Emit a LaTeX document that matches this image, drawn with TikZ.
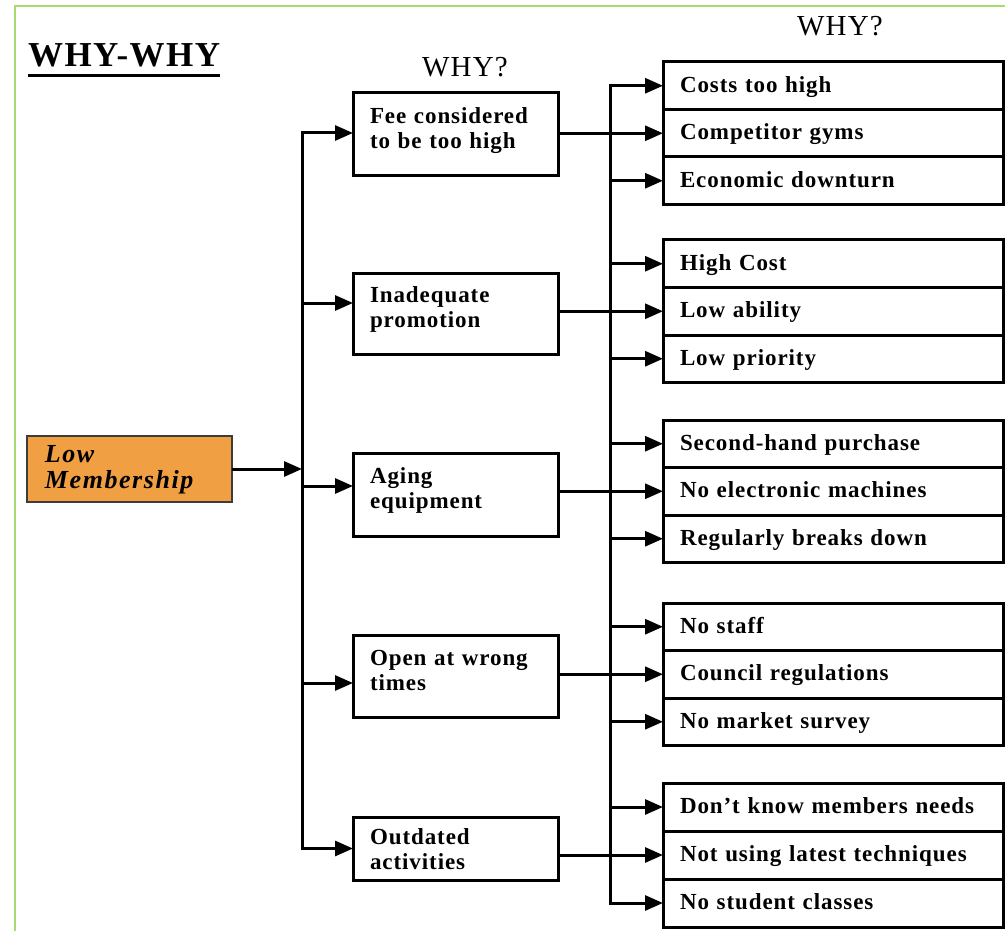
\documentclass[tikz,border=0pt]{standalone}
\usepackage{fontspec}
\setmainfont{Liberation Serif}
\newfontfamily\boxfont[LetterSpace=4]{Liberation Serif}
\newfontfamily\rootfont[LetterSpace=6]{Liberation Serif}
\usetikzlibrary{positioning,arrows.meta}
\definecolor{framegreen}{RGB}{166,220,110}
\definecolor{rootfill}{RGB}{240,160,66}
\definecolor{rootdraw}{RGB}{60,60,60}

\begin{document}
\begin{tikzpicture}[
    x=1pt, y=-1pt,
    box/.style={rectangle, draw, line width=3pt, outer sep=0pt, text width=171pt, inner xsep=17pt, inner ysep=2pt, align=left, text height=16pt, text depth=38pt, font=\boxfont\fontsize{23}{25}\selectfont\bfseries},
    reason/.style={rectangle, draw, line width=3pt, outer sep=0pt, text width=306pt, inner xsep=17pt, align=left, minimum height=47.5pt, text height=17pt, text depth=4pt, font=\boxfont\fontsize{23}{25}\selectfont\bfseries},
    root/.style={rectangle, draw=rootdraw, fill=rootfill, line width=1.8pt, outer sep=0pt, text width=169pt, inner xsep=18pt, inner ysep=2pt, align=left, minimum height=66pt, text height=18pt, text depth=32pt, font=\rootfont\fontsize{26}{26}\selectfont\bfseries\itshape},
    whylabel/.style={inner sep=0pt, font=\boxfont\fontsize{29}{30}\selectfont},
    link/.style={line width=3pt, line cap=rect},
    arrow/.style={-{Triangle[length=18pt,width=15pt]}, line width=3pt}
]
\useasboundingbox (0,0) rectangle (1005,931);

% Frame
\draw[framegreen, line width=2pt] (15,931) -- (15,6) -- (1005,6);

% Title
\node[inner sep=0pt, anchor=base west, font=\boxfont\fontsize{35}{40}\selectfont\bfseries] (title) at (28,67) {WHY-WHY};
\draw[line width=3pt] ([yshift=-8pt]title.south west) -- ([yshift=-8pt]title.south east);

\node[whylabel, anchor=base] (why1) at (465,77) {WHY?};
\node[whylabel, anchor=base] (why2) at (840,36) {WHY?};

% Problem
\node[root, anchor=north west] (root) at (27,436) {Low\\Membership};

% First why
\node[box, anchor=north west, minimum height=83pt] (fee) at (353,93) {Fee considered\\to be too high};
\node[box, anchor=north west, minimum height=81pt] (promo) at (353,273) {Inadequate\\promotion};
\node[box, anchor=north west, minimum height=83pt] (aging) at (353,453) {Aging\\equipment};
\node[box, anchor=north west, minimum height=82pt] (open) at (353,635) {Open at wrong\\times};
\node[box, anchor=north west, minimum height=63pt, text depth=24pt] (outd) at (353,817) {Outdated\\activities};

% Second why
\node[reason, anchor=north west] (costs) at (663,62) {Costs too high};
\node[reason, below=0pt of costs] (gyms) {Competitor gyms};
\node[reason, below=0pt of gyms] (downturn) {Economic downturn};

\node[reason, anchor=north west] (highcost) at (663,240) {High Cost};
\node[reason, below=0pt of highcost] (ability) {Low ability};
\node[reason, below=0pt of ability] (priority) {Low priority};

\node[reason, anchor=north west] (secondhand) at (663,420) {Second-hand purchase};
\node[reason, below=0pt of secondhand] (electronic) {No electronic machines};
\node[reason, below=0pt of electronic] (breaks) {Regularly breaks down};

\node[reason, anchor=north west] (staff) at (663,603) {No staff};
\node[reason, below=0pt of staff] (council) {Council regulations};
\node[reason, below=0pt of council] (survey) {No market survey};

\node[reason, anchor=north west, minimum height=48pt] (needs) at (663,783) {Don’t know members needs};
\node[reason, below=0pt of needs, minimum height=48pt] (latest) {Not using latest techniques};
\node[reason, below=0pt of latest, minimum height=48pt] (student) {No student classes};

% Trunks
\coordinate (ltrunk) at (302,0);
\coordinate (rtrunk) at (610,0);
\coordinate (fee-in) at ([yshift=1.5pt]fee.west);
\coordinate (promo-in) at ([yshift=10.5pt]promo.west);
\coordinate (aging-in) at ([yshift=8.5pt]aging.west);
\coordinate (open-in) at ([yshift=-7pt]open.west);
\coordinate (outd-in) at (outd.west);

\draw[arrow] (root.east) -- (root.east -| ltrunk);
\draw[link] (fee-in -| ltrunk) -- (outd-in -| ltrunk);
\foreach \n in {fee,promo,aging,open,outd}
    \draw[arrow] (\n-in -| ltrunk) -- (\n-in);

\draw[link] (costs.west -| rtrunk) -- (student.west -| rtrunk);
\foreach \n in {costs,gyms,downturn,highcost,ability,priority,secondhand,electronic,breaks,staff,council,survey,needs,latest,student}
    \draw[arrow] (\n.west -| rtrunk) -- (\n.west);

% First why to second why
\draw[link] (fee.east |- gyms.west) -- (gyms.west -| rtrunk);
\draw[link] (promo.east |- ability.west) -- (ability.west -| rtrunk);
\draw[link] (aging.east |- electronic.west) -- (electronic.west -| rtrunk);
\draw[link] (open.east |- council.west) -- (council.west -| rtrunk);
\draw[link] (outd.east |- latest.west) -- (latest.west -| rtrunk);

\end{tikzpicture}
\end{document}
